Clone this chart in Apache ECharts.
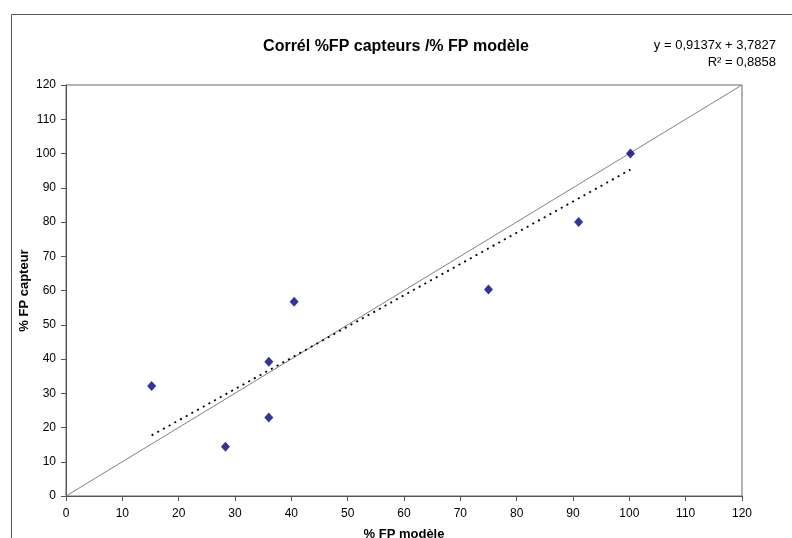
<!DOCTYPE html>
<html>
<head>
<meta charset="utf-8">
<script src="https://cdn.jsdelivr.net/npm/echarts@6/dist/echarts.min.js"></script>
<style>
html,body{margin:0;padding:0;background:#fff;}
#chart{width:792px;height:538px;}
</style>
</head>
<body>
<div id="chart"></div>
<script>
// Data
const modelPct = [15.2, 28.3, 36.0, 36.0, 40.5, 75.0, 91.0, 100.2];
const sensorPct = [32.1, 14.4, 39.2, 22.9, 56.7, 60.3, 80.0, 100.0];
const identityX = [0, 120];
const identityY = [0, 120];
const trendX = [15.2, 100.2];
const trendY = [17.7, 95.3];
const titleText = 'Corrél %FP capteurs /% FP modèle';
const eqText = 'y = 0,9137x + 3,7827';
const r2Text = 'R² = 0,8858';
const xName = '% FP modèle';
const yName = '% FP capteur';

const FONT = 'Liberation Sans, Arial, sans-serif';
const pts = modelPct.map((x, i) => [x, sensorPct[i]]);
const idLine = identityX.map((x, i) => [x, identityY[i]]);
const trLine = trendX.map((x, i) => [x, trendY[i]]);

const chart = echarts.init(document.getElementById('chart'), null, {renderer: 'canvas'});
const axisCommon = {
  type: 'value', min: 0, max: 120, interval: 10,
  axisLine: {show: true, lineStyle: {color: '#555', width: 1}},
  axisTick: {show: true, inside: false, length: 5, lineStyle: {color: '#555'}},
  splitLine: {show: false},
  axisLabel: {color: '#000', fontSize: 12, fontFamily: FONT},
  nameLocation: 'middle',
  nameMoveOverlap: false,
  nameTextStyle: {color: '#000', fontSize: 13, fontWeight: 'bold', fontFamily: FONT}
};
chart.setOption({
  animation: false,
  backgroundColor: '#fff',
  title: {
    text: titleText, left: 'center', top: 34,
    textStyle: {fontSize: 16, fontWeight: 'bold', color: '#000', fontFamily: FONT}
  },
  grid: {left: 66, top: 85, right: 50, bottom: 42, containLabel: false, outerBoundsMode: 'none', show: true, borderColor: '#666', borderWidth: 1, backgroundColor: '#fff'},
  xAxis: Object.assign({}, axisCommon, {
    name: xName, nameGap: 32,
    axisLabel: Object.assign({}, axisCommon.axisLabel, {margin: 12})
  }),
  yAxis: Object.assign({}, axisCommon, {
    name: yName, nameGap: 35,
    axisLabel: Object.assign({}, axisCommon.axisLabel, {margin: 10})
  }),
  graphic: [
    {type: 'rect', shape: {x: 11.5, y: 14.5, width: 1000, height: 1000}, style: {fill: 'none', stroke: '#555', lineWidth: 1}, z: -10, silent: true},
    {type: 'text', x: 776, y: 45, style: {text: eqText, fill: '#000', font: '13px ' + FONT, textAlign: 'right', textVerticalAlign: 'middle'}},
    {type: 'text', x: 776, y: 62, style: {text: r2Text, fill: '#000', font: '13px ' + FONT, textAlign: 'right', textVerticalAlign: 'middle'}}
  ],
  series: [
    {type: 'line', data: idLine, symbol: 'none', lineStyle: {color: '#808080', width: 1}, z: 1},
    {type: 'line', data: trLine, symbol: 'none', lineStyle: {color: '#000', width: 1.8, type: [2, 4.5]}, z: 2},
    {type: 'scatter', data: pts, symbol: 'diamond', symbolSize: [9, 10], itemStyle: {color: '#000080'}, z: 3}
  ]
});
</script>
</body>
</html>
